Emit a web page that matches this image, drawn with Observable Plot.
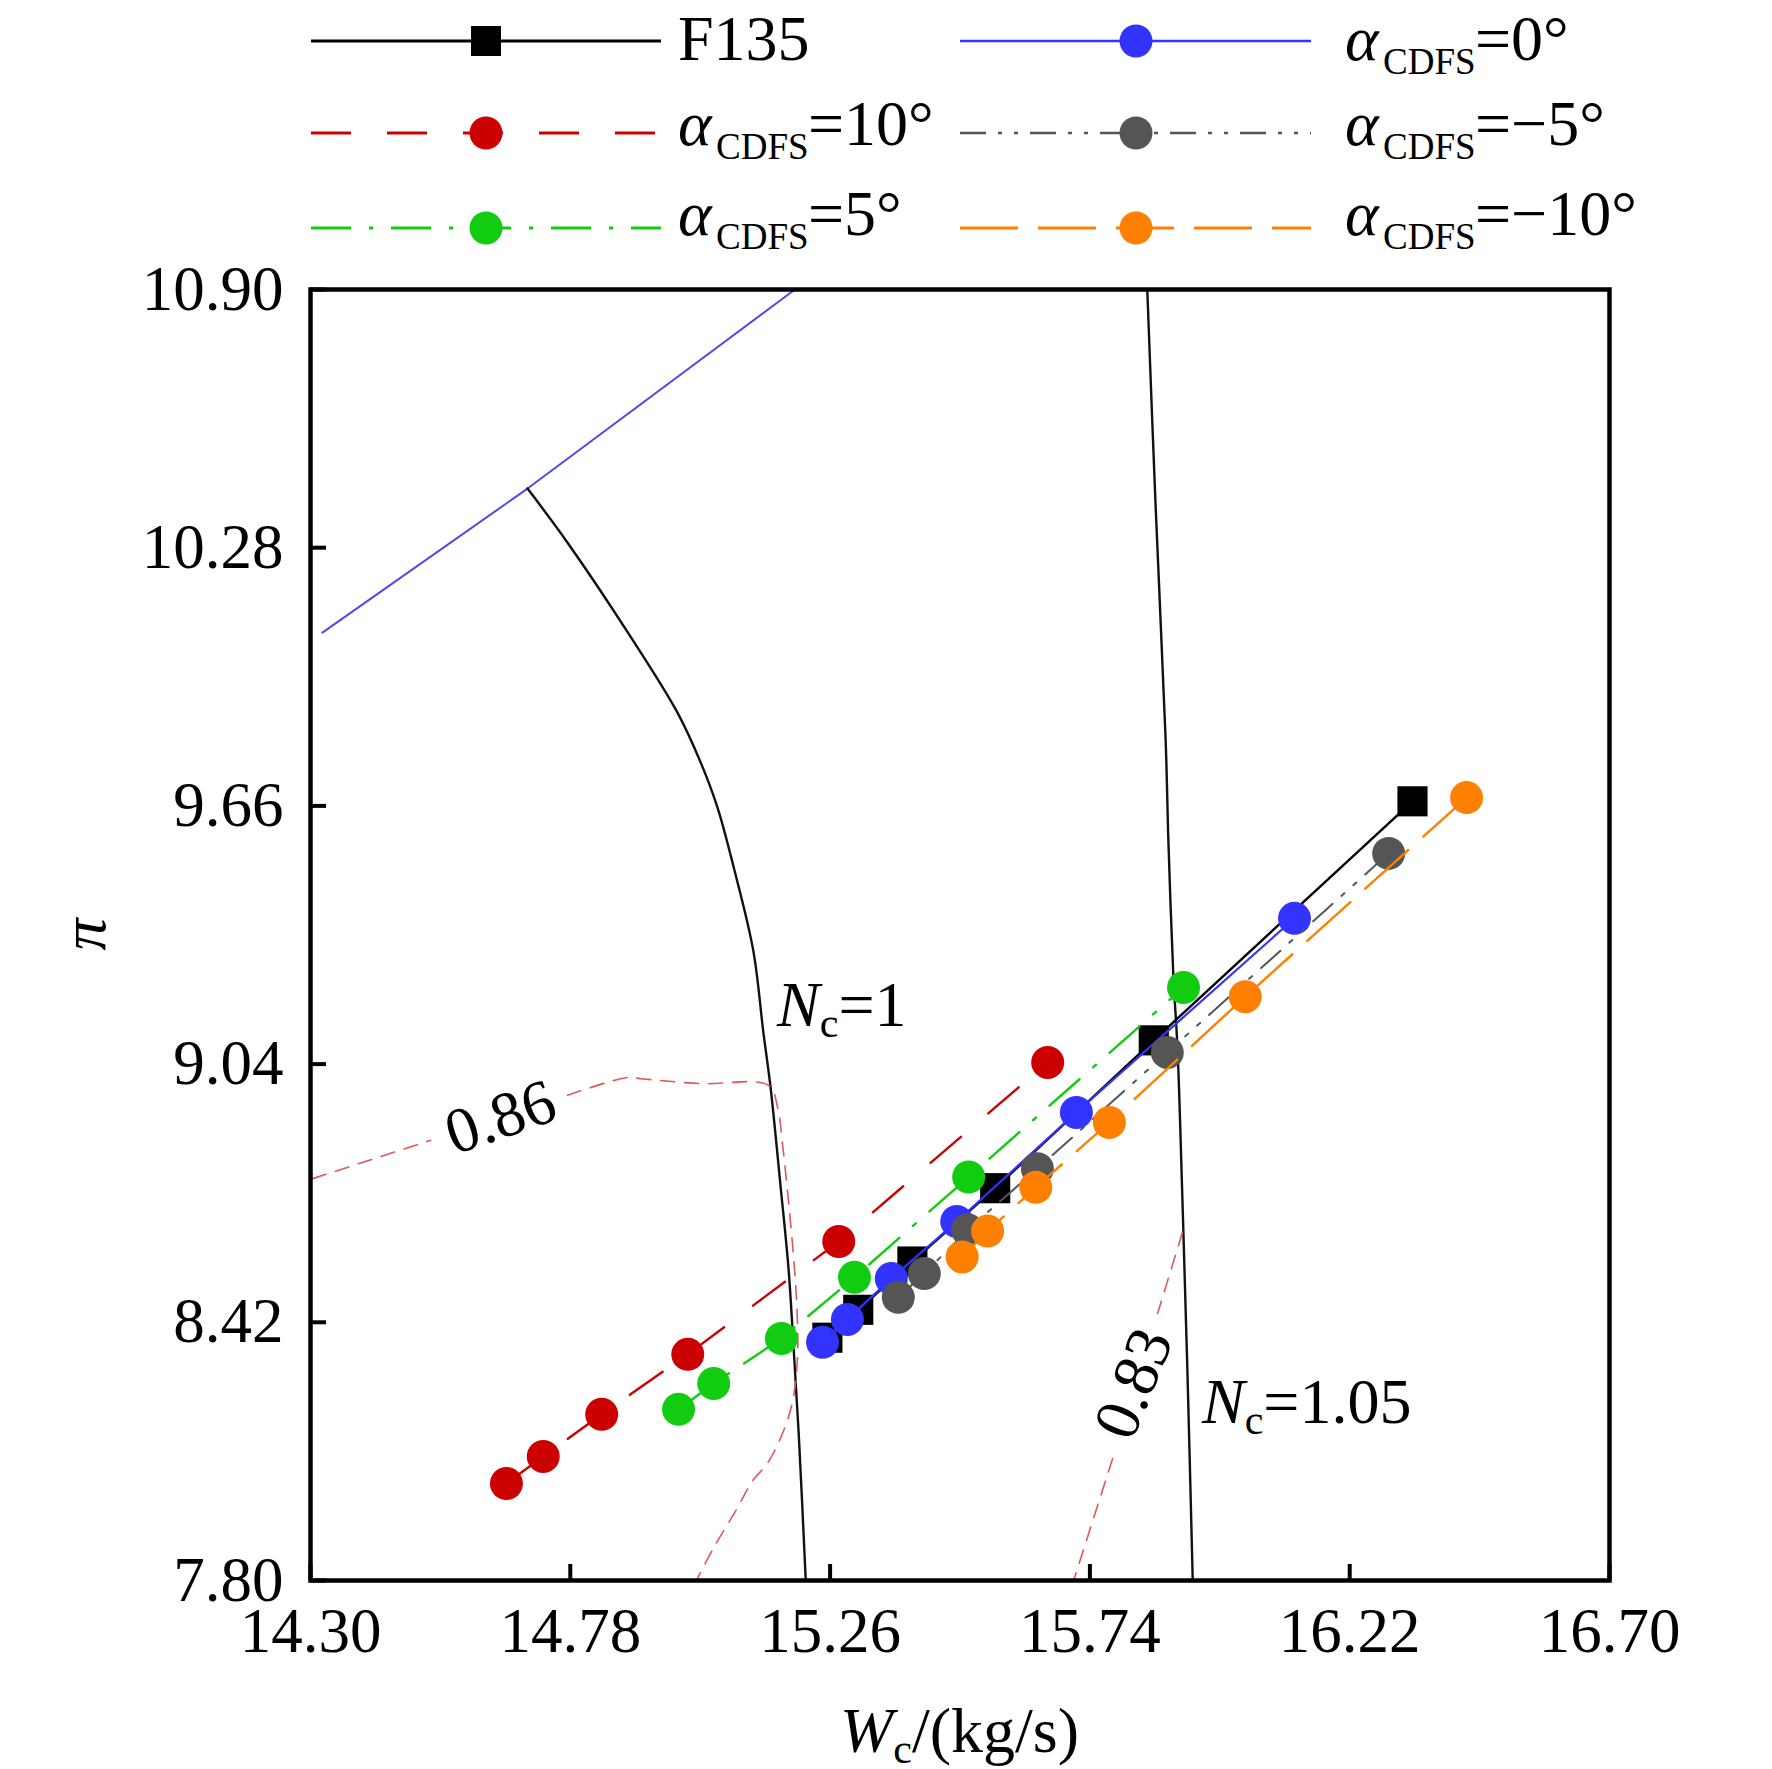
<!DOCTYPE html>
<html><head><meta charset="utf-8">
<script src="https://cdn.jsdelivr.net/npm/d3@7"></script>
<script src="https://cdn.jsdelivr.net/npm/@observablehq/plot@0.6"></script>
<style>
html,body{margin:0;padding:0;background:#fff;}
svg{display:block;}
#chart{width:1772px;}
</style></head><body><div id="chart"></div>
<script>
// ---------- data ----------
const xTicks = [14.30, 14.78, 15.26, 15.74, 16.22, 16.70];
const yTicks = [7.80, 8.42, 9.04, 9.66, 10.28, 10.90];

const f135W  = [15.255, 15.312, 15.412, 15.565, 15.858, 16.336];
const f135Pi = [8.383, 8.450, 8.566, 8.742, 9.097, 9.671];
const a0W    = [15.246, 15.292, 15.373, 15.494, 15.715, 16.118];
const a0Pi   = [8.372, 8.427, 8.525, 8.662, 8.924, 9.390];
const a10W   = [14.662, 14.730, 14.838, 14.997, 15.276, 15.662];
const a10Pi  = [8.033, 8.098, 8.199, 8.343, 8.614, 9.044];
const a5W    = [14.980, 15.045, 15.170, 15.305, 15.516, 15.913];
const a5Pi   = [8.211, 8.273, 8.381, 8.528, 8.769, 9.224];
const am5W   = [15.386, 15.434, 15.514, 15.643, 15.883, 16.292];
const am5Pi  = [8.480, 8.537, 8.642, 8.789, 9.068, 9.546];
const am10W  = [15.504, 15.551, 15.640, 15.776, 16.027, 16.436];
const am10Pi = [8.577, 8.639, 8.744, 8.900, 9.202, 9.680];

// surge line
const surgeW  = [14.322, 14.701, 15.195];
const surgePi = [10.076, 10.422, 10.900];
// speed line Nc = 1
const n1W  = [14.701, 14.775, 14.891, 14.978, 15.021, 15.052, 15.082, 15.118, 15.137, 15.150, 15.168, 15.183, 15.191, 15.202, 15.215];
const n1Pi = [10.422, 10.292, 10.067, 9.884, 9.764, 9.656, 9.512, 9.313, 9.113, 8.984, 8.753, 8.552, 8.393, 8.153, 7.800];
// speed line Nc = 1.05
const n105W  = [15.846, 15.861, 15.880, 15.885, 15.894, 15.902, 15.911, 15.920, 15.930];
const n105Pi = [10.900, 10.393, 9.817, 9.577, 9.258, 9.073, 8.712, 8.311, 7.800];
// efficiency contour 0.86 (two pieces either side of its label)
const e86aW  = [14.304, 14.522];
const e86aPi = [8.765, 8.857];
const e86bW  = [14.775, 14.886, 14.910, 15.021, 15.146, 15.163, 15.172, 15.183, 15.192, 15.198, 15.200, 15.191, 15.172, 15.144, 15.117, 15.089, 15.045, 15.013];
const e86bPi = [8.965, 9.008, 9.005, 8.993, 8.989, 8.936, 8.849, 8.712, 8.585, 8.472, 8.345, 8.232, 8.153, 8.081, 8.040, 7.975, 7.879, 7.800];
// efficiency contour 0.83
const e83aW  = [15.911, 15.865];
const e83aPi = [8.636, 8.441];
const e83bW  = [15.782, 15.710];
const e83bPi = [8.093, 7.800];
// contour labels
const effLabelText = ["0.86", "0.83"];
const effLabelW    = [14.651, 15.821];
const effLabelPi   = [8.912, 8.273];
const effLabelRot  = [-19, -68];
// speed labels
const speedLabelVal = ["=1", "=1.05"];
const speedLabelW   = [15.163, 15.948];
const speedLabelPi  = [9.130, 8.177];

const legendNames = ["F135", "=0°", "=10°", "=5°", "=−5°", "=−10°"];

// ---------- styles ----------
const styles = [
  {color: "#000000", dash: null, symbol: "square", width: 2.4, r: 17},
  {color: "#3333ff", dash: null, symbol: "circle", width: 2.2, r: 16.5},
  {color: "#cc0000", dash: "40,36", symbol: "circle", width: 2.4, r: 16.5},
  {color: "#11cc11", dash: "40,18,4,18", symbol: "circle", width: 2.4, r: 16.5},
  {color: "#555555", dash: "26,12,4,12,4,12", symbol: "circle", width: 2, r: 16.5},
  {color: "#ff8000", dash: "58,20", symbol: "circle", width: 2.4, r: 16.5}
];
const seriesW = [f135W, a0W, a10W, a5W, am5W, am10W];
const seriesPi = [f135Pi, a0Pi, a10Pi, a5Pi, am5Pi, am10Pi];

const zip = (xs, ys) => xs.map((x, i) => ({x, y: ys[i]}));

// ---------- layout ----------
const W = 1772, legendH = 260, plotH = 1509;
const mL = 310, mR = 163, mT = 29, mB = 189;
const innerW = W - mL - mR, innerH = plotH - mT - mB;
const FONT = "'Liberation Serif', 'Times New Roman', serif";

// ---------- legend ----------
const leg = d3.create("svg").attr("width", W).attr("height", legendH)
  .style("font-family", FONT).attr("text-anchor", "start");
const legendOrder = [0, 1, 2, 4, 3, 5];
const colLine = [[311, 661], [960, 1311]];
const colMark = [486, 1136];
const colText = [678, 1345];
const rowY = [41, 133, 228];
const rowBase = [60, 145, 235];
legendOrder.forEach((si, k) => {
  const col = k % 2, row = Math.floor(k / 2);
  const st = styles[si];
  const y = rowY[row];
  const ln = leg.append("line").attr("x1", colLine[col][0]).attr("x2", colLine[col][1])
    .attr("y1", y).attr("y2", y).attr("stroke", st.color).attr("stroke-width", st.width + 0.4);
  if (st.dash) ln.attr("stroke-dasharray", st.dash);
  if (st.symbol === "square") {
    leg.append("rect").attr("x", colMark[col] - 15).attr("y", y - 15).attr("width", 30).attr("height", 30).attr("fill", st.color);
  } else {
    leg.append("circle").attr("cx", colMark[col]).attr("cy", y).attr("r", 16.5).attr("fill", st.color);
  }
  const x0 = colText[col];
  if (si === 0) {
    leg.append("text").attr("x", x0).attr("y", rowBase[row]).attr("font-size", 64).text(legendNames[0]);
  } else {
    const t = leg.append("text").attr("x", x0).attr("y", rowBase[row]).attr("font-size", 64);
    t.append("tspan").attr("font-style", "italic").text("α");
    t.append("tspan").attr("x", x0 + 38).attr("dy", 14).attr("font-size", 37).text("CDFS");
    t.append("tspan").attr("x", x0 + 130).attr("dy", -14).text(legendNames[si]);
  }
});
document.getElementById("chart").append(leg.node());

// ---------- plot ----------
const marks = [
  Plot.line(zip(surgeW, surgePi), {x: "x", y: "y", stroke: "#4b4bf0", strokeWidth: 2}),
  Plot.line(zip(n1W, n1Pi), {x: "x", y: "y", stroke: "#111", strokeWidth: 2.4, curve: "catmull-rom"}),
  Plot.line(zip(n105W, n105Pi), {x: "x", y: "y", stroke: "#111", strokeWidth: 2.4, curve: "catmull-rom"}),
  Plot.line(zip(e86aW, e86aPi), {x: "x", y: "y", stroke: "#dc5a5a", strokeWidth: 1.6, strokeDasharray: "14,10"}),
  Plot.line(zip(e86bW, e86bPi), {x: "x", y: "y", stroke: "#dc5a5a", strokeWidth: 1.6, strokeDasharray: "14,10", curve: "catmull-rom"}),
  Plot.line(zip(e83aW, e83aPi), {x: "x", y: "y", stroke: "#dc5a5a", strokeWidth: 1.6, strokeDasharray: "14,10"}),
  Plot.line(zip(e83bW, e83bPi), {x: "x", y: "y", stroke: "#dc5a5a", strokeWidth: 1.6, strokeDasharray: "14,10"}),
  Plot.text(effLabelText.map((t, i) => ({t, x: effLabelW[i], y: effLabelPi[i], r: effLabelRot[i]})),
    {x: "x", y: "y", text: "t", rotate: "r", fontSize: 64, fill: "black"})
];
seriesW.forEach((ws, i) => {
  const st = styles[i];
  const rows = zip(ws, seriesPi[i]);
  marks.push(Plot.line(rows, {x: "x", y: "y", stroke: st.color, strokeWidth: st.width, strokeDasharray: st.dash || undefined}));
  marks.push(Plot.dot(rows, {x: "x", y: "y", r: st.r, fill: st.color, stroke: "none", symbol: st.symbol}));
});
marks.push(
  Plot.frame({stroke: "black", strokeWidth: 4.5}),
  Plot.tickX(xTicks, {x: d => d, stroke: "black", strokeWidth: 4, insetTop: innerH - 16}),
  Plot.tickY(yTicks, {y: d => d, stroke: "black", strokeWidth: 4, insetRight: innerW - 16}),
  Plot.axisX(xTicks, {tickSize: 0, tickPadding: 27, fontSize: 63, tickFormat: d => d.toFixed(2), label: null, fill: "black"}),
  Plot.axisY(yTicks, {tickSize: 0, tickPadding: 27, fontSize: 63, tickFormat: d => d.toFixed(2), label: null, fill: "black"})
);

const plot = Plot.plot({
  width: W, height: plotH,
  marginLeft: mL, marginRight: mR, marginTop: mT, marginBottom: mB,
  x: {domain: [14.30, 16.70]},
  y: {domain: [7.80, 10.90]},
  style: {fontFamily: FONT, fontSize: "64px", color: "black", background: "white", overflow: "visible"},
  marks
});
document.getElementById("chart").append(plot);

// ---------- rich-text annotations (subscripts) ----------
const sx = plot.scale("x"), sy = plot.scale("y");
const svg = d3.select(plot);
const g = svg.append("g").attr("font-family", FONT).attr("fill", "black").attr("text-anchor", "start");
speedLabelVal.forEach((v, i) => {
  const px = sx.apply(speedLabelW[i]), py = sy.apply(speedLabelPi[i]);
  const t = g.append("text").attr("x", px).attr("y", py).attr("font-size", 64).attr("text-anchor", "start");
  t.append("tspan").attr("font-style", "italic").text("N");
  t.append("tspan").attr("font-size", 42).attr("dy", 11).text("c");
  t.append("tspan").attr("dy", -11).text(v);
});
const xr = sx.range, yr = sy.range;
const cx = (xr[0] + xr[1]) / 2;
const bottom = Math.max(yr[0], yr[1]);
const xt = g.append("text").attr("x", cx).attr("y", bottom + 172).attr("font-size", 64).attr("text-anchor", "middle");
xt.append("tspan").attr("font-style", "italic").text("W");
xt.append("tspan").attr("font-size", 42).attr("dy", 11).text("c");
xt.append("tspan").attr("dy", -11).text("/(kg/s)");
const cy = (yr[0] + yr[1]) / 2;
g.append("text").attr("transform", `translate(${Math.min(xr[0], xr[1]) - 205},${cy}) rotate(-90)`)
  .attr("text-anchor", "middle").attr("font-size", 64).attr("font-style", "italic").text("π");
</script></body></html>
